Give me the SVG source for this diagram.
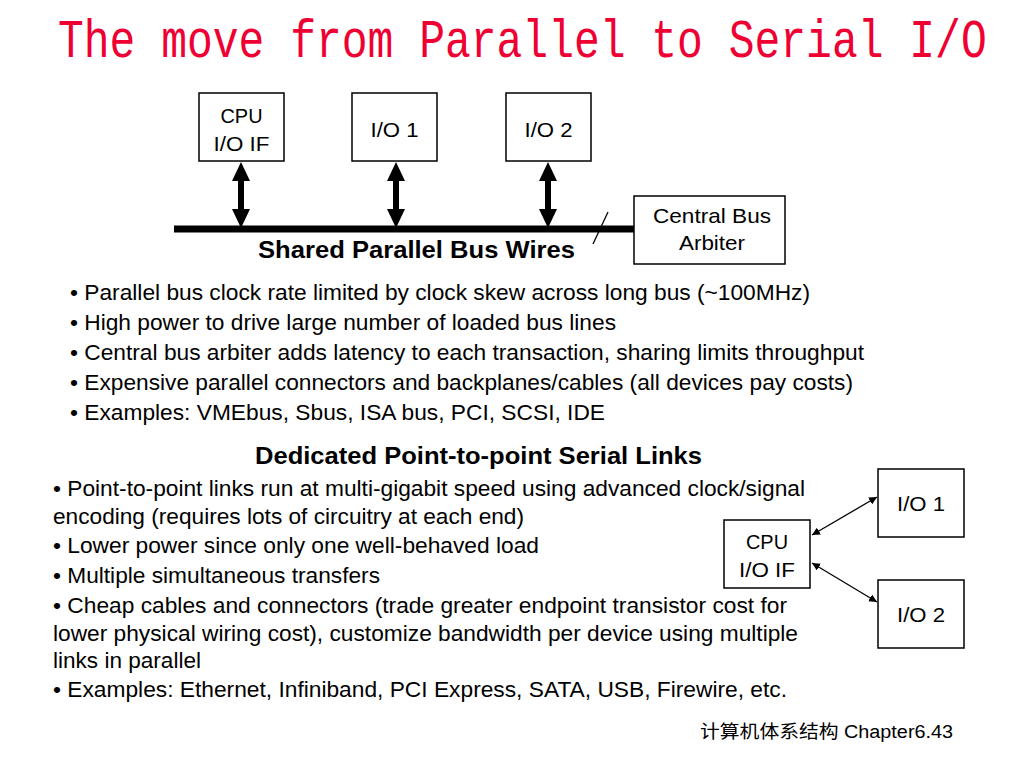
<svg xmlns="http://www.w3.org/2000/svg" width="1024" height="768" viewBox="0 0 1024 768">
<defs>
<style>
.box{fill:#fff;stroke:#000;stroke-width:1.5}
.lbl{font-family:"Liberation Sans",Arial,sans-serif;font-size:21px;fill:#000;text-anchor:middle}
.txt{font-family:"Liberation Sans",Arial,sans-serif;font-size:22px;fill:#000}
.hd{font-family:"Liberation Sans",Arial,sans-serif;font-size:24px;font-weight:bold;fill:#000}
.title{font-family:"Liberation Mono","Courier New",monospace;font-size:43px;fill:#EE0033}
.thin{stroke:#000;stroke-width:1.3;fill:none;marker-start:url(#ah);marker-end:url(#ah)}
</style>
<marker id="ah" viewBox="0 0 10 10" refX="10" refY="5" markerWidth="8" markerHeight="8" markerUnits="userSpaceOnUse" orient="auto-start-reverse">
<path d="M0,0 L10,5 L0,10 z" fill="#000"/>
</marker>
<g id="dbl">
<polygon points="0,0 9,19 -9,19" fill="#000"/>
<rect x="-3" y="18" width="6" height="30" fill="#000"/>
<polygon points="0,66 9,47 -9,47" fill="#000"/>
</g>
</defs>
<rect width="1024" height="768" fill="#fff"/>

<text class="title" transform="translate(58,57) scale(1,1.24)" x="0" y="0">The move from Parallel to Serial I/O</text>

<g id="connectors">
<line x1="174" y1="229" x2="636" y2="229" stroke="#000" stroke-width="7"/>
<line x1="593" y1="244" x2="608" y2="212" stroke="#000" stroke-width="1.3"/>
<use href="#dbl" x="241" y="162"/>
<use href="#dbl" x="396" y="162"/>
<use href="#dbl" x="548" y="162"/>
<line class="thin" x1="812" y1="535" x2="877" y2="497"/>
<line class="thin" x1="812" y1="563" x2="877" y2="602"/>
</g>

<g id="cpu-top">
<rect class="box" x="199" y="93" width="85" height="68"/>
<text class="lbl" x="241.5" y="123" textLength="42" lengthAdjust="spacingAndGlyphs">CPU</text>
<text class="lbl" x="241.5" y="151" textLength="56" lengthAdjust="spacingAndGlyphs">I/O IF</text>
</g>
<g id="io1-top">
<rect class="box" x="352" y="93" width="85" height="68"/>
<text class="lbl" x="394.5" y="137" textLength="48" lengthAdjust="spacingAndGlyphs">I/O 1</text>
</g>
<g id="io2-top">
<rect class="box" x="506" y="93" width="85" height="68"/>
<text class="lbl" x="548.5" y="137" textLength="48" lengthAdjust="spacingAndGlyphs">I/O 2</text>
</g>
<g id="arbiter">
<rect class="box" x="634" y="196" width="151" height="68"/>
<text class="lbl" x="712" y="223" textLength="118" lengthAdjust="spacingAndGlyphs">Central Bus</text>
<text class="lbl" x="712" y="250" textLength="66" lengthAdjust="spacingAndGlyphs">Arbiter</text>
</g>

<text class="hd" x="258" y="258" textLength="317" lengthAdjust="spacingAndGlyphs">Shared Parallel Bus Wires</text>

<g id="bullets-top">
<text class="txt" x="70" y="300" textLength="740" lengthAdjust="spacingAndGlyphs">• Parallel bus clock rate limited by clock skew across long bus (~100MHz)</text>
<text class="txt" x="70" y="330" textLength="546" lengthAdjust="spacingAndGlyphs">• High power to drive large number of loaded bus lines</text>
<text class="txt" x="70" y="360" textLength="794" lengthAdjust="spacingAndGlyphs">• Central bus arbiter adds latency to each transaction, sharing limits throughput</text>
<text class="txt" x="70" y="390" textLength="783" lengthAdjust="spacingAndGlyphs">• Expensive parallel connectors and backplanes/cables (all devices pay costs)</text>
<text class="txt" x="70" y="420" textLength="535" lengthAdjust="spacingAndGlyphs">• Examples: VMEbus, Sbus, ISA bus, PCI, SCSI, IDE</text>
</g>

<text class="hd" x="255" y="464" textLength="447" lengthAdjust="spacingAndGlyphs">Dedicated Point-to-point Serial Links</text>

<g id="bullets-bottom">
<text class="txt" x="53" y="496" textLength="752" lengthAdjust="spacingAndGlyphs">• Point-to-point links run at multi-gigabit speed using advanced clock/signal</text>
<text class="txt" x="53" y="524" textLength="471" lengthAdjust="spacingAndGlyphs">encoding (requires lots of circuitry at each end)</text>
<text class="txt" x="53" y="553" textLength="486" lengthAdjust="spacingAndGlyphs">• Lower power since only one well-behaved load</text>
<text class="txt" x="53" y="583" textLength="327" lengthAdjust="spacingAndGlyphs">• Multiple simultaneous transfers</text>
<text class="txt" x="53" y="613" textLength="734" lengthAdjust="spacingAndGlyphs">• Cheap cables and connectors (trade greater endpoint transistor cost for</text>
<text class="txt" x="53" y="641" textLength="745" lengthAdjust="spacingAndGlyphs">lower physical wiring cost), customize bandwidth per device using multiple</text>
<text class="txt" x="53" y="668" textLength="148" lengthAdjust="spacingAndGlyphs">links in parallel</text>
<text class="txt" x="53" y="697" textLength="734" lengthAdjust="spacingAndGlyphs">• Examples: Ethernet, Infiniband, PCI Express, SATA, USB, Firewire, etc.</text>
</g>

<g id="cpu-bottom">
<rect class="box" x="724" y="520" width="86" height="68"/>
<text class="lbl" x="767" y="549" textLength="42" lengthAdjust="spacingAndGlyphs">CPU</text>
<text class="lbl" x="767" y="577" textLength="56" lengthAdjust="spacingAndGlyphs">I/O IF</text>
</g>
<g id="io1-bottom">
<rect class="box" x="878" y="469" width="86" height="68"/>
<text class="lbl" x="921" y="511" textLength="48" lengthAdjust="spacingAndGlyphs">I/O 1</text>
</g>
<g id="io2-bottom">
<rect class="box" x="878" y="580" width="86" height="68"/>
<text class="lbl" x="921" y="622" textLength="48" lengthAdjust="spacingAndGlyphs">I/O 2</text>
</g>

<text x="700" y="738" font-family="'Liberation Sans','Noto Sans CJK SC',sans-serif" font-size="18" fill="#000" textLength="253" lengthAdjust="spacingAndGlyphs">计算机体系结构 Chapter6.43</text>
</svg>
